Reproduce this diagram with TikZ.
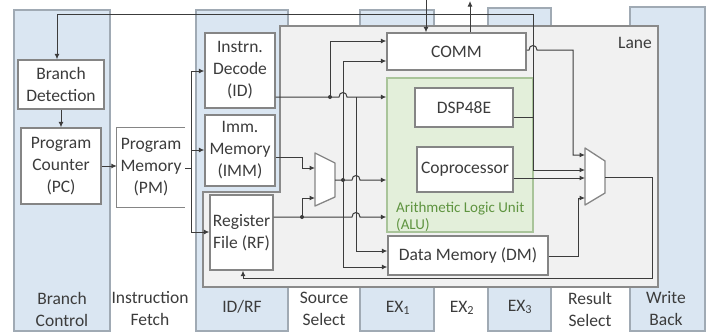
\documentclass[tikz,border=0pt]{standalone}
\usepackage{fontspec}
\setmainfont{Carlito}
\usetikzlibrary{arrows.meta}

\definecolor{colblue}{HTML}{DAE6F2}
\definecolor{colline}{HTML}{A0AAB4}
\definecolor{lanefill}{HTML}{F1F1F1}
\definecolor{laneline}{HTML}{8A8A8A}
\definecolor{alufill}{HTML}{E3EFDA}
\definecolor{aluline}{HTML}{A9C49A}
\definecolor{alutext}{HTML}{5F9440}
\definecolor{boxline}{HTML}{858585}
\definecolor{wirecol}{HTML}{3C3C3C}
\definecolor{txt}{HTML}{3C3C3C}

\begin{document}
\begin{tikzpicture}[x=1pt, y=-1pt,
  font=\fontsize{17.5}{22}\selectfont, text=txt,
  stage/.style={fill=colblue, draw=colline, line width=1.3pt},
  unit/.style={draw=boxline, fill=white, line width=1.3pt, align=center, inner sep=0pt},
  wire/.style={draw=wirecol, line width=1pt},
  arr/.style={wire, -{Latex[length=5.5pt,width=5pt]}},
  junction/.style={circle, fill=wirecol, inner sep=0pt, minimum size=4pt},
  stagelabel/.style={align=center, inner sep=0pt},
  muxshape/.style={draw=boxline, fill=white, line width=1.3pt, line join=round}
]
\useasboundingbox (0,0) rectangle (709,333);
\fill[white] (0,0) rectangle (709,333);

% pipeline stage columns
\draw[stage] (14,10) rectangle (110,331);
\draw[stage] (196,10) rectangle (288,331);
\draw[stage] (360,10) rectangle (434,331);
\draw[stage] (488,8) rectangle (551,331);
\draw[stage] (630,7) rectangle (705,331);

% stage names
\node[stagelabel] (lbc) at (62,309) {Branch\\Control};
\node[stagelabel] (lif) at (150,309) {Instruction\\Fetch};
\node[stagelabel] (lid) at (242,307) {ID/RF};
\node[stagelabel] (lss) at (324,309) {Source\\Select};
\node[stagelabel] (lx1) at (398,308) {EX\textsubscript{1}};
\node[stagelabel] (lx2) at (462,308) {EX\textsubscript{2}};
\node[stagelabel] (lx3) at (520,307) {EX\textsubscript{3}};
\node[stagelabel] (lrs) at (590,309) {Result\\Select};
\node[stagelabel] (lwb) at (666,309) {Write\\Back};

% the lane
\draw[fill=lanefill, draw=laneline, line width=1.3pt]
  (280,26) -- (658,26) -- (658,287) -- (203,287) -- (203,192) -- (280,192) -- cycle;
\node[inner sep=0pt] (lane) at (635,43) {Lane};

% front-end units
\node[unit, minimum width=86pt, minimum height=49pt] (bd) at (61,84.5) {Branch\\Detection};
\node[unit, minimum width=80pt, minimum height=76pt] (pc) at (61,166) {Program\\Counter\\(PC)};
\node[inner sep=0pt, align=center, minimum width=68pt, minimum height=79pt] (pm) at (151,167.5) {Program\\Memory\\(PM)};
\draw[draw=boxline, line width=1.3pt] (pm.north east) -- (pm.north west) -- (pm.south west) -- (pm.south east);

\node[unit, minimum width=70pt, minimum height=75pt] (id) at (240,70.5) {Instrn.\\Decode\\(ID)};
\node[unit, minimum width=70pt, minimum height=71pt] (imm) at (240,150.5) {Imm.\\Memory\\(IMM)};
\node[unit, minimum width=63pt, minimum height=75pt] (rf) at (241.5,232.5) {Register\\File (RF)};

% execute units
\node[unit, minimum width=139pt, minimum height=37pt] (comm) at (456.5,51.5) {COMM};
\node[draw=aluline, fill=alufill, line width=1.3pt, inner sep=0pt,
      minimum width=146pt, minimum height=154pt] (alu) at (460,155) {};
\node[unit, minimum width=98pt, minimum height=39pt] (dsp) at (464,107.5) {DSP48E};
\node[unit, minimum width=96pt, minimum height=45pt] (cop) at (465,169.5) {Coprocessor};
\node[anchor=base west, inner sep=0pt, text=alutext, font=\fontsize{15}{17}\selectfont] (alul1) at (396,212) {Arithmetic Logic Unit};
\node[anchor=base west, inner sep=0pt, text=alutext, font=\fontsize{15}{17}\selectfont] (alul2) at (396,229) {(ALU)};
\node[unit, minimum width=160pt, minimum height=39pt] (dm) at (468,255.5) {Data Memory (DM)};

% source select multiplexer
\draw[muxshape] (315,153) -- (335,163) -- (335,197) -- (315,206) -- cycle;
\coordinate (smA) at (315,168);
\coordinate (smB) at (315,198);
\coordinate (smO) at (335,180);

% result select multiplexer
\draw[muxshape] (585,148) -- (605,161) -- (605,193) -- (585,205) -- cycle;
\coordinate (rmA) at (585,155);
\coordinate (rmB) at (585,170);
\coordinate (rmC) at (585,178);
\coordinate (rmD) at (585,198);
\coordinate (rmO) at (605,177);

% external links of COMM
\coordinate (extin) at (426,0);
\coordinate (extout) at (470,1);
\draw[arr] (extin) -- (426,0 |- comm.north);
\draw[arr] (470,0 |- comm.north) -- (extout);

% branch loop from DSP48E
\coordinate (tl) at (533,14);
\draw[wire] (dsp.east |- 0,117) -- (533,117);
\draw[arr] (tl) -- (57,14) -- (57,0 |- bd.north);
\draw[arr] (tl) -- (533,170) -- (rmB);

% branch control and fetch
\draw[arr] (bd.south) -- (pc.north);
\draw[arr] (pc.east) -- (pm.west |- pc.east);
\draw[arr] (pm.east |- 0,168) -- (191,168) -- (191,71) -- (id.west |- 0,71);
\draw[arr] (191,168) -- (191,232) -- (rf.west |- 0,232);
\draw[arr] (191,150) -- (imm.west |- 0,150);

% decoded instruction
\draw[arr] (id.east |- 0,97) -- (339,97) .. controls (339,91) and (347,91) .. (347,97) -- (alu.west |- 0,97);
\draw[arr] (330,97) -- (330,41) -- (comm.west |- 0,41);
\draw[arr] (356,97) -- (356,251) -- (dm.west |- 0,251);
\node[junction] (j1) at (330,97) {};

% immediate and register operands
\draw[arr] (imm.east |- 0,157) -- (302,157) -- (302,168) -- (smA);
\draw[arr] (rf.east |- 0,217) -- (352,217) .. controls (352,211) and (360,211) .. (360,217) -- (alu.west |- 0,217);
\draw[arr] (302,217) -- (302,198) -- (smB);
\node[junction] (j2) at (302,217) {};

% selected source operand
\draw[arr] (smO) -- (352,180) .. controls (352,174) and (360,174) .. (360,180) -- (alu.west |- 0,180);
\draw[arr] (343,180) -- (343,61) -- (comm.west |- 0,61);
\draw[arr] (343,180) -- (343,267) -- (dm.west |- 0,267);
\node[junction] (j3) at (343,180) {};

% results to the result select multiplexer
\draw[arr] (comm.east |- 0,50) -- (529,50) .. controls (529,44) and (537,44) .. (537,50) -- (573,50) -- (573,155) -- (rmA);
\draw[arr] (cop.east |- 0,178) -- (rmC);
\draw[arr] (dm.east |- 0,256) -- (578,256) -- (578,198) -- (rmD);

% write back to the register file
\draw[arr] (rmO) -- (652,177) -- (652,278) -- (243,278) -- (243,0 |- rf.south);
\end{tikzpicture}
\end{document}
